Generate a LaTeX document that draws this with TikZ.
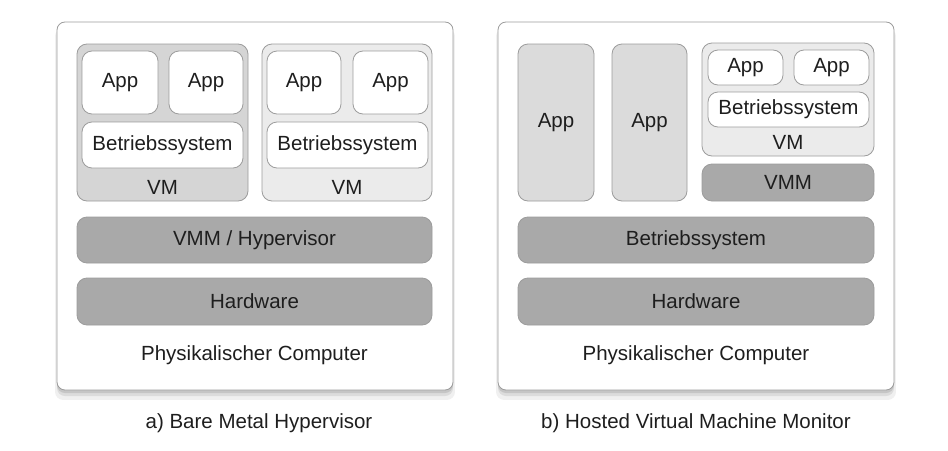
\documentclass[tikz,border=0pt]{standalone}
\usepackage{fontspec}
\setmainfont{Liberation Sans}
\usepackage{tikz}
\usetikzlibrary{positioning, shadows}
\definecolor{edge}{HTML}{9C9C9C}
\definecolor{vmdark}{HTML}{D5D5D5}
\definecolor{vmlight}{HTML}{EBEBEB}
\definecolor{layer}{HTML}{A9A9A9}
\definecolor{ink}{HTML}{1E1E1E}
\tikzset {
    x=1pt, y=-1pt,
    every node/.style={font=\fontsize{20.5}{24}\selectfont, text=ink},
    box/.style={draw=edge, line width=0.8pt, rounded corners=10pt, inner sep=0pt, align=center},
    computer/.style={box, fill=white, rounded corners=8pt,
        drop shadow={shadow xshift=0pt, shadow yshift=-8pt, shadow scale=1.01, opacity=0.12},
        drop shadow={shadow xshift=0pt, shadow yshift=-6pt, opacity=0.18},
        drop shadow={shadow xshift=0pt, shadow yshift=-3pt, opacity=0.25}},
    appbox/.style={box, fill=white},
    vmbox/.style={box},
    layerbox/.style={box, fill=layer}
}
\begin{document}
\begin{tikzpicture}
    \useasboundingbox (0,0) rectangle (948,450);

    % a) bare metal
    \node[computer, minimum width=396pt, minimum height=368pt] (pcA) at (255,206) {};
    \node[vmbox, fill=vmdark, minimum width=171pt, minimum height=157pt] (vmA1) at (162.5,122.5) {};
    \node[appbox, minimum width=76pt, minimum height=63pt] (appA1) at (120,82.5) {App};
    \node[appbox, minimum width=74pt, minimum height=63pt] (appA2) at (206,82.5) {App};
    \node[appbox, minimum width=161pt, minimum height=46pt] (osA1) at (162.5,145) {Betriebssystem};
    \node (vmA1l) at (162.5,187) {VM};
    \node[vmbox, fill=vmlight, minimum width=170pt, minimum height=157pt] (vmA2) at (347,122.5) {};
    \node[appbox, minimum width=74pt, minimum height=63pt] (appA3) at (304,82.5) {App};
    \node[appbox, minimum width=75pt, minimum height=63pt] (appA4) at (390.5,82.5) {App};
    \node[appbox, minimum width=161pt, minimum height=46pt] (osA2) at (347.5,145) {Betriebssystem};
    \node (vmA2l) at (347,187) {VM};
    \node[layerbox, minimum width=355pt, minimum height=46pt] (hyp) at (254.5,240) {VMM / Hypervisor};
    \node[layerbox, minimum width=355pt, minimum height=47pt] (hwA) at (254.5,301.5) {Hardware};
    \node (pcAl) at (254.5,355) {Physikalischer Computer};
    \node (capA) at (259,423) {a) Bare Metal Hypervisor};

    % b) hosted
    \node[computer, minimum width=396pt, minimum height=368pt] (pcB) at (696,206) {};
    \node[vmbox, fill=vmlight!85!gray, minimum width=76pt, minimum height=157pt] (appB1) at (556,122.5) {App};
    \node[vmbox, fill=vmlight!85!gray, minimum width=75pt, minimum height=157pt] (appB2) at (649.5,122.5) {App};
    \node[vmbox, fill=vmlight, minimum width=172pt, minimum height=113pt] (vmB) at (788,99.5) {};
    \node[appbox, minimum width=75pt, minimum height=35pt] (appB3) at (745.5,67.5) {App};
    \node[appbox, minimum width=75pt, minimum height=35pt] (appB4) at (831.5,67.5) {App};
    \node[appbox, minimum width=161pt, minimum height=35pt] (osB1) at (788.5,109.5) {Betriebssystem};
    \node (vmBl) at (788,142) {VM};
    \node[layerbox, minimum width=172pt, minimum height=37pt] (vmm) at (788,182.5) {VMM};
    \node[layerbox, minimum width=356pt, minimum height=46pt] (osB) at (696,240) {Betriebssystem};
    \node[layerbox, minimum width=356pt, minimum height=47pt] (hwB) at (696,301.5) {Hardware};
    \node (pcBl) at (696,355) {Physikalischer Computer};
    \node (capB) at (696,423) {b) Hosted Virtual Machine Monitor};
\end{tikzpicture}
\end{document}
